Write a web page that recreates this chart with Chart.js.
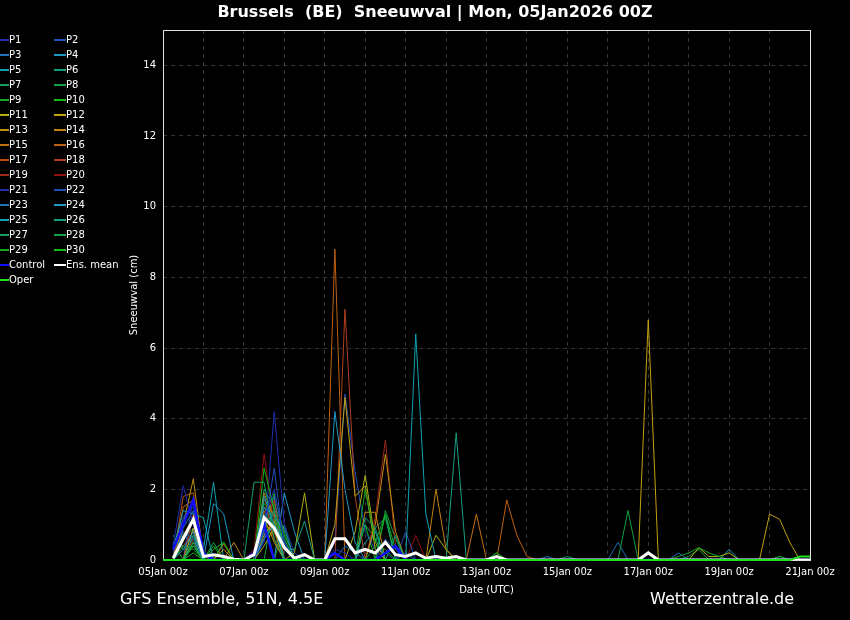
<!DOCTYPE html>
<html>
<head>
<meta charset="utf-8">
<script src="https://cdn.jsdelivr.net/npm/chart.js@4.4.1/dist/chart.umd.min.js"></script>
<style>
  html, body { margin: 0; padding: 0; background: #000; }
  #wrap { position: relative; width: 850px; height: 620px; background: #000; overflow: hidden;
          font-family: "DejaVu Sans", sans-serif; color: #fff; }
  #chart { position: absolute; left: 0; top: 0; }
  #title { position: absolute; left: 0; width: 870px; top: 2px; text-align: center;
           font-weight: bold; font-size: 16px; white-space: pre; }
  .foot { position: absolute; top: 589px; font-size: 16px; }
  .leg { position: absolute; font-size: 10px; line-height: 12px; white-space: pre; }
  .leg span.sw { position: absolute; top: 5px; height: 2px; }
</style>
</head>
<body>
<div id="wrap">
  <canvas id="chart" width="850" height="620"></canvas>
  <div id="title">Brussels  (BE)  Sneeuwval | Mon, 05Jan2026 00Z</div>
  <div class="foot" style="left:120px">GFS Ensemble, 51N, 4.5E</div>
  <div class="foot" style="left:650px">Wetterzentrale.de</div>
  <div id="legend"></div>
</div>
<script>
// **Axis labels** (one tick label every 2 days, data every 6 hours)
const tickLabels = ["05Jan 00z", "07Jan 00z", "09Jan 00z", "11Jan 00z", "13Jan 00z",
                    "15Jan 00z", "17Jan 00z", "19Jan 00z", "21Jan 00z"];

// **Snowfall per 6h step (cm)**, 65 steps from 05Jan 00z to 21Jan 00z
const p1  = [null,0.4,2.1,1.0,0.1,0,0,0, 0,0,1.2,2.0,0.5,0,0,0, 0,0.3,0.2,0,0,0,0,0, 0,0,0,0,0,0,0,0, 0,0,0,0,0,0,0,0, 0,0,0,0,0,0,0,0, 0,0,0,0,0,0,0,0, 0,0,0,0,0,0,0,0, 0];
const p2  = [null,0.2,1.2,1.6,0,0,0,0, 0,0,0.8,2.6,0.3,0,0,0, 0,0,0,0,0,0,0.6,0.3, 0,0,0,0,0,0,0,0, 0,0,0,0,0,0,0,0, 0,0,0,0,0,0,0,0, 0,0,0,0,0,0,0,0, 0,0,0,0,0,0,0,0, 0];
const p3  = [null,0,0.8,0.6,0,0,0,0, 0,0.2,1.5,1.2,0.9,0,0,0, 0,0,0.4,0.2,0,0,0,0, 0.2,0,0,0,0,0,0,0, 0,0,0,0,0,0,0,0, 0,0,0,0,0,0,0,0, 0,0,0,0.2,0,0,0,0, 0,0,0,0,0,0,0,0, 0];
const p4  = [null,0,0.3,0.8,0,1.6,1.3,0, 0,0,0.6,1.0,0,0,0,0, 0,4.2,2.0,0.5,0,0,0,0, 0,0,0,0,0,0,0,0, 0,0,0,0,0,0,0,0, 0,0,0,0,0,0,0,0, 0,0,0,0,0,0,0,0, 0,0,0,0,0,0,0,0, 0];
const p5  = [null,0.3,1.4,1.3,1.2,0,0,0, 0,0,1.8,1.0,0.5,0,0,0, 0,0,0,0,0,0,0,0, 0,6.4,1.3,0,0,0,0,0, 0,0,0,0,0,0,0,0, 0,0,0,0,0,0,0,0, 0,0,0,0,0,0,0,0, 0,0,0,0,0,0,0,0, 0];
const p6  = [null,0,0,0.7,0,0,0,0, 0,0,0.9,1.4,0.3,0.3,1.1,0, 0,0,0,0,1.2,0.9,0,0.7, 0,0,0,0,0,0,0,0, 0,0,0,0,0,0,0,0, 0,0,0,0,0,0,0,0, 0,0,0,0,0,0,0,0, 0,0,0,0,0,0,0,0, 0];
const p7  = [null,0.7,0.3,0.4,0,0,0,0, 0,2.2,2.2,0.6,0,0,0,0, 0,0,0,0,0,0,0,0, 0,0,0,0,0,0,0,0, 0,0,0,0,0,0,0,0, 0.1,0,0,0,0,0,0,0, 0,0,0,0,0,0,0,0, 0,0,0,0,0,0,0,0, 0];
const p8  = [null,0,0,0.5,0,0.5,0,0, 0,0,1.3,1.0,0,0,0,0, 0,0,0,0,0,0.4,0.3,0, 0,0,0,0,0,0,0,0, 0,0,0,0,0,0,0,0, 0,0,0,0,0,0,1.4,0, 0,0,0,0,0,0,0,0, 0,0,0,0,0,0,0,0, 0];
const p9  = [null,0,0.4,0.3,0,0,0,0, 0,0,1.6,1.2,0,0,0,0, 0,0,0,0,2.0,0.5,1.3,0.3, 0,0,0,0,0,0,0,0, 0,0.2,0,0,0,0,0,0, 0,0,0,0,0,0,0,0, 0,0,0,0.1,0.2,0.35,0.2,0.1, 0,0,0,0,0,0,0,0, 0];
const p10 = [null,0,0,0.4,0,0.3,0.5,0, 0,0,2.6,1.4,0.5,0,0,0, 0,0,0,0,0,0,0,0, 0,0,0,0,0,0,0,0, 0,0,0,0,0,0,0,0, 0,0,0,0,0,0,0,0, 0,0,0,0,0,0,0,0, 0,0,0,0,0,0,0,0, 0];
const p11 = [null,0,0,0.5,0,0,0,0, 0,0,0.4,0.9,0,0.2,1.9,0, 0,0,0,0.8,2.4,0.5,0,0, 0,0,0,0.7,0.3,0,0,0, 0,0,0,0,0,0,0,0, 0,0,0,0,0,0,0,0, 0,0,0,0,0,0.35,0.1,0.1, 0.2,0,0,0,0,0,0,0, 0];
const p12 = [null,0,0,0.9,0,0,0,0, 0,0,0.7,1.1,0,0,0,0, 0,1.0,4.6,1.8,2.1,0.3,0,0, 0,0,0,0,0,0,0,0, 0,0,0,0,0,0,0,0, 0,0,0,0,0,0,0,0, 6.8,0,0,0,0,0,0,0, 0,0,0,0,1.3,1.15,0.5,0, 0];
const p13 = [null,0,1.0,2.3,0.1,0,0.3,0, 0,0,1.2,0.5,0,0,0,0, 0,0,0,0,0,1.0,3.0,0.8, 0,0,0,0,0,0,0,0, 0,0,0,0,0,0,0,0, 0,0,0,0,0,0,0,0, 0,0,0,0,0,0,0,0, 0,0,0,0,0,0,0,0, 0];
const p14 = [null,0,0.7,1.2,0,0,0,0.5, 0,0,1.9,1.2,0,0,0,0, 0,0,0,0,1.35,1.35,0,0, 0,0,0,2.0,0.3,0,0,0, 0,0,0,0,0,0,0,0, 0,0,0,0,0,0,0,0, 0,0,0,0,0,0,0,0, 0,0,0,0,0,0,0,0, 0];
const p15 = [null,0,1.5,1.7,0,0,0,0, 0,0,1.0,0.8,0,0,0,0, 0,0,0,0,0,0,0,0, 0,0,0,0,0,0,0,1.3, 0,0,0,0,0,0,0,0, 0,0,0,0,0,0,0,0, 0,0,0,0,0,0,0,0, 0,0,0,0,0,0,0,0, 0];
const p16 = [null,0,0.6,1.1,0,0,0,0, 0,0,1.4,0.6,0,0,0,0, 0,8.8,0,0,0,0,0,0, 0,0,0,0,0,0,0,0, 0,0,1.7,0.7,0.1,0,0,0, 0,0,0,0,0,0,0,0, 0,0,0,0,0,0,0,0, 0,0,0,0,0,0,0,0, 0];
const p17 = [null,0,1.8,1.9,0.1,0,0.45,0, 0,0,1.5,1.3,0,0,0,0, 0,0,0,0,0,0,0,0, 0,0,0,0,0,0,0,0, 0,0,0,0,0,0,0,0, 0,0,0,0,0,0,0,0, 0,0,0,0,0,0,0,0, 0,0,0,0,0,0,0,0, 0];
const p18 = [null,0,0,1.3,0,0,0,0, 0,0,0.9,1.7,0,0,0,0, 0,0,7.1,1.8,0,0,0,0, 0,0,0,0,0,0,0,0, 0,0,0,0,0,0,0,0, 0,0,0,0,0,0,0,0, 0,0,0,0,0,0,0,0, 0,0,0,0,0,0,0,0, 0];
const p19 = [null,0,0.4,0.8,0,0,0,0, 0,0,1.8,0.6,0,0,0,0, 0,0,0,0,0,1.2,3.4,0.4, 0,0,0,0,0,0,0,0, 0,0,0,0,0,0,0,0, 0,0,0,0,0,0,0,0, 0,0,0,0,0,0,0,0, 0,0,0,0,0,0,0,0, 0];
const p20 = [null,0,0,0.6,0,0,0,0, 0,0.3,3.0,1.0,0,0,0,0, 0,0,0,0,0,0,0,0, 0,0.7,0,0,0,0,0,0, 0,0,0,0,0,0,0,0, 0,0,0,0,0,0,0,0, 0,0,0,0,0,0,0,0, 0,0,0,0,0,0,0,0, 0];
const p21 = [null,0,1.2,1.5,0,0,0,0, 0,0,0.5,4.2,1.0,0.2,0,0, 0,0,0,0,0,0,0,0, 0,0,0,0,0,0,0,0, 0,0,0,0,0,0,0,0, 0,0,0,0,0,0,0,0, 0,0,0,0,0,0,0,0, 0,0,0,0,0,0,0,0, 0];
const p22 = [null,0,0,1.8,0,0,0,0, 0,0,0.6,1.2,0,0,0,0, 0,0.5,4.7,2.5,0.8,0.3,0.2,0, 0.8,0,0,0,0,0,0,0, 0,0,0,0,0,0,0,0, 0,0,0,0,0,0,0,0, 0,0,0,0,0,0,0,0, 0,0,0,0,0,0,0,0, 0];
const p23 = [null,0,0.9,1.4,0,0,0,0, 0,0,1.1,1.8,0,0,0,0, 0,0,0,0,0,0,0,0, 0,0,0,0,0,0,0,0, 0,0,0,0,0,0,0.1,0, 0,0,0,0,0,0.5,0,0, 0,0,0,0,0,0,0,0, 0,0,0,0,0,0,0,0, 0];
const p24 = [null,0,0,0.9,0,0,0,0, 0,0,0,0,1.9,0.8,0,0, 0,0,0,0,0,0,0,0, 0,0,0,0,0,0,0,0, 0,0,0,0,0,0,0,0, 0,0,0,0,0,0,0,0, 0,0,0,0,0,0,0,0, 0.3,0,0,0,0,0,0,0, 0];
const p25 = [null,0,0.7,0.5,0.3,2.2,0,0, 0,0,1.5,0.9,0,0,0,0, 0,0,0,0,0.5,0.8,0,0, 0,0,0,0,0,0,0,0, 0,0,0,0,0,0,0,0, 0,0,0,0,0,0,0,0, 0,0,0,0,0,0,0,0, 0,0,0,0,0,0,0,0, 0];
const p26 = [null,0,0,0.4,0,0,0,0, 0,0,1.7,1.3,0,0,0,0, 0,0,0,0,0,0.9,1.2,0, 0,0,0,0,0,3.6,0,0, 0,0,0,0,0,0,0,0, 0,0,0,0,0,0,0,0, 0,0,0,0,0,0,0,0, 0,0,0,0,0,0,0,0, 0];
const p27 = [null,0.5,0.4,0.7,0,0,0,0, 0,0,2.0,1.5,0.6,0,0,0, 0,0,0,0,1.0,0.6,0,0, 0,0,0,0,0,0,0,0, 0,0,0,0,0,0,0,0, 0,0,0,0,0,0,0,0, 0,0,0,0,0,0,0,0, 0,0,0,0,0,0,0,0, 0];
const p28 = [null,0,0.6,0.9,0,0,0,0, 0,0,0,1.6,0.8,0,0,0, 0,0,0,0,0,0,1.4,0.6, 0,0,0,0,0,0,0,0, 0,0,0,0,0,0,0,0, 0,0,0,0,0,0,0,0, 0,0,0,0,0.1,0.3,0,0, 0,0,0,0,0,0.1,0,0, 0];
const p29 = [null,0.5,0,0.6,0,0.4,0,0, 0,0,1.3,0,1.0,0,0,0, 0,0,0,0,0,0,0,0, 0,0,0,0,0,0,0,0, 0,0.2,0,0,0,0,0,0, 0,0,0,0,0,0,0,0, 0,0,0,0,0,0,0,0, 0,0,0,0,0,0.1,0,0, 0];
const p30 = [null,0,0,0.2,0,0,0.5,0, 0,0,0.8,1.9,0.7,0.1,0,0, 0,0,0,0,1.0,0,1.3,0, 0,0,0,0,0,0,0,0, 0,0,0,0,0,0,0,0, 0,0,0,0,0,0,0,0, 0,0,0,0,0,0,0,0, 0,0,0,0,0,0,0,0, 0];
const control = [null,0.3,1.0,1.7,0.2,0,0,0, 0,0.2,1.0,0,0,0,0,0, 0,0.2,0,0,0,0,0.2,0.4, 0,0,0,0,0,0,0,0, 0,0,0,0,0,0,0,0, 0,0,0,0,0,0,0,0, 0,0,0,0,0,0,0,0, 0,0,0,0,0,0,0,0, 0];
const ensMean = [null,0.05,0.6,1.15,0.1,0.15,0.1,0.02, 0,0.15,1.2,0.9,0.35,0.05,0.15,0, 0,0.6,0.6,0.2,0.3,0.2,0.5,0.15, 0.1,0.2,0.05,0.1,0.05,0.1,0,0, 0,0.1,0,0,0,0,0,0, 0,0,0,0,0,0,0,0, 0.2,0,0,0,0,0,0,0, 0,0,0,0,0,0,0,0, 0];
const oper = [0,0,0,0,0,0,0,0, 0,0,0,0,0,0,0,0, 0,0,0,0,0,0,0,0, 0,0,0,0,0,0,0,0, 0,0,0,0,0,0,0,0, 0,0,0,0,0,0,0,0, 0,0,0,0,0,0,0,0, 0,0,0,0,0,0,0,0.1, 0.1];

const members = [p1, p2, p3, p4, p5, p6, p7, p8, p9, p10, p11, p12, p13, p14, p15,
                 p16, p17, p18, p19, p20, p21, p22, p23, p24, p25, p26, p27, p28, p29, p30];

// P1..P20 colours, P21..P30 repeat P1..P10
const memberColors = ["#1f2fb0", "#1f4fb8", "#1f70b8", "#1f98c4", "#10a0b0", "#10a080",
                      "#10a060", "#10a040", "#10a820", "#10b810", "#b0b010", "#c0a010",
                      "#c09010", "#c08010", "#c07010", "#c06010", "#b85010", "#b04020",
                      "#a02818", "#901010"];

const steps = members[0].map((v, i) => i);

// **Datasets**
let datasets = members.map((data, i) => ({
    label: "P" + (i + 1),
    data: data,
    borderColor: memberColors[i % 20],
    borderWidth: 1,
    order: 10
}));
datasets.push({ label: "Control", data: control, borderColor: "#1010ff", borderWidth: 2.5, order: 3 });
datasets.push({ label: "Ens. mean", data: ensMean, borderColor: "#ffffff", borderWidth: 3, order: 2 });
datasets.push({ label: "Oper", data: oper, borderColor: "#20e020", borderWidth: 2, order: 1, clip: false });

// **HTML legend, two columns**
function buildLegend() {
    let legend = document.getElementById("legend");
    datasets.forEach((ds, i) => {
        let col = i % 2;
        let row = Math.floor(i / 2);
        if (ds.label === "Oper") { col = 0; row = 16; }
        if (ds.label === "Control") { col = 0; row = 15; }
        if (ds.label === "Ens. mean") { col = 1; row = 15; }
        let div = document.createElement("div");
        div.className = "leg";
        div.style.left = (col === 0 ? 9 : 66) + "px";
        div.style.top = (34 + row * 15) + "px";
        div.textContent = ds.label;
        let sw = document.createElement("span");
        sw.className = "sw";
        sw.style.left = (col === 0 ? -9 : -12) + "px";
        sw.style.width = (col === 0 ? 9 : 12) + "px";
        sw.style.background = ds.borderColor;
        div.appendChild(sw);
        legend.appendChild(div);
    });
}

// white frame round the plot area (under the lines)
const framePlugin = {
    id: "frame",
    beforeDatasetsDraw(chart) {
        const a = chart.chartArea;
        const c = chart.ctx;
        c.save();
        c.strokeStyle = "#e0e0e0";
        c.lineWidth = 1;
        c.strokeRect(a.left + 0.5, a.top + 0.5, a.right - a.left, a.bottom - a.top);
        c.restore();
    }
};

Chart.defaults.font.family = "'DejaVu Sans', sans-serif";
Chart.defaults.color = "#fff";

const gridColor = "rgba(255,255,255,0.2)";

new Chart(document.getElementById("chart").getContext("2d"), {
    type: "line",
    data: { labels: steps, datasets: datasets },
    options: {
        responsive: false,
        animation: false,
        layout: { padding: { top: 30, right: 40, bottom: 20, left: 122 } },
        elements: { point: { radius: 0 }, line: { tension: 0 } },
        plugins: { legend: { display: false }, tooltip: { enabled: false } },
        scales: {
            x: {
                type: "linear",
                min: 0,
                max: 64,
                afterFit: (s) => { s.height = 40; },
                grid: { color: gridColor, drawTicks: false },
                border: { display: false, dash: [4, 4] },
                ticks: {
                    stepSize: 4,
                    autoSkip: false,
                    maxRotation: 0,
                    padding: 6,
                    color: "#fff",
                    font: { size: 10 },
                    callback: (v) => (v % 8 === 0 ? tickLabels[v / 8] : "")
                },
                title: { display: true, text: "Date (UTC)", color: "#fff", font: { size: 10 }, padding: { top: 0, bottom: 4 } }
            },
            y: {
                min: 0,
                max: 15,
                afterFit: (s) => { s.width = 41; },
                grid: { color: gridColor, drawTicks: false },
                border: { display: false, dash: [4, 4] },
                ticks: { stepSize: 2, includeBounds: false, padding: 7, color: "#fff", font: { size: 10 } },
                title: { display: true, text: "Sneeuwval (cm)", color: "#fff", font: { size: 10 }, padding: { top: 6, bottom: 0 } }
            }
        }
    },
    plugins: [framePlugin]
});

buildLegend();
</script>
</body>
</html>
